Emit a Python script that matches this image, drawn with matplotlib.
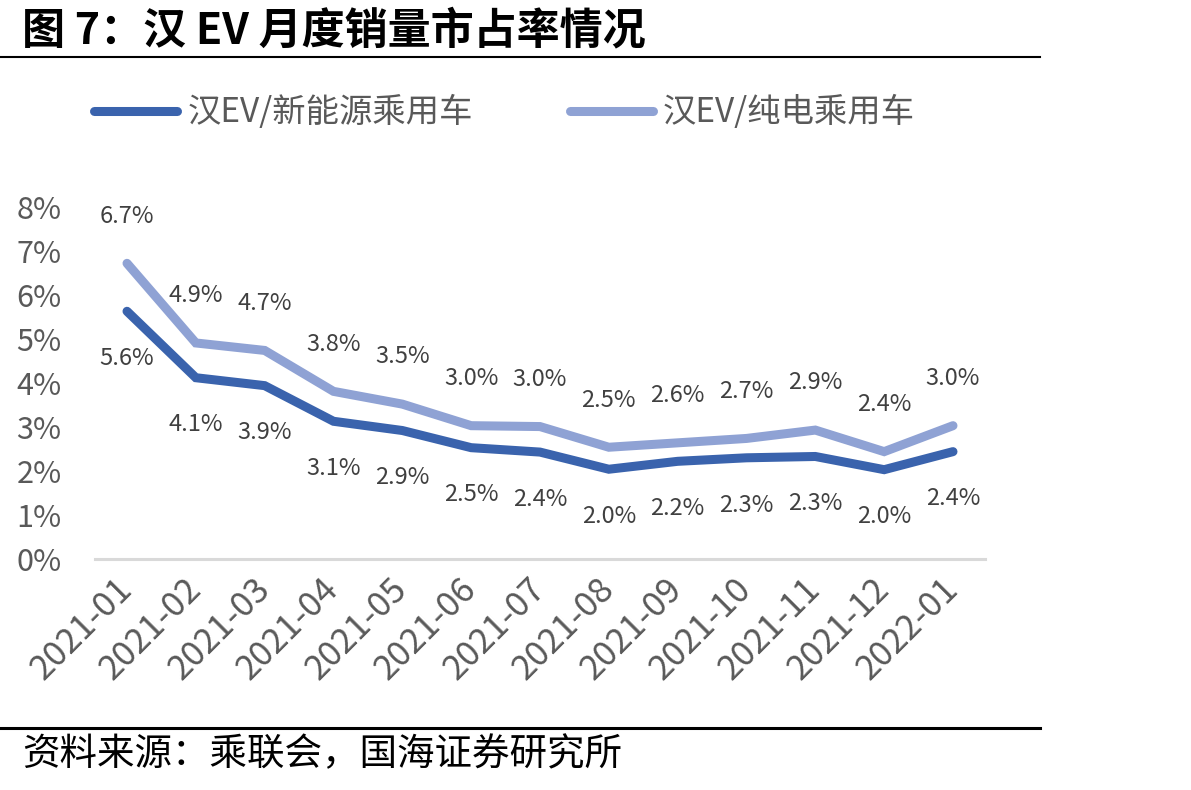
import matplotlib
matplotlib.use("Agg")
import matplotlib.pyplot as plt
from matplotlib.lines import Line2D
from matplotlib.ticker import FuncFormatter

plt.rcParams["font.family"] = ["Noto Sans CJK SC", "DejaVu Sans"]

months = ["2021-01", "2021-02", "2021-03", "2021-04", "2021-05", "2021-06", "2021-07",
          "2021-08", "2021-09", "2021-10", "2021-11", "2021-12", "2022-01"]
share_nev = [0.0563, 0.0412, 0.0394, 0.0313, 0.0292, 0.0253, 0.0243,
             0.0204, 0.0222, 0.0230, 0.0233, 0.0203, 0.0244]
share_bev = [0.0672, 0.0491, 0.0474, 0.0381, 0.0352, 0.0303, 0.0301,
             0.0254, 0.0264, 0.0274, 0.0293, 0.0244, 0.0303]
series_names = ["汉EV/新能源乘用车", "汉EV/纯电乘用车"]
title = "图 7：汉 EV 月度销量市占率情况"
source = "资料来源：乘联会，国海证券研究所"

dark = "#3A63AD"
light = "#8FA2D4"
label_color = "#404040"
tick_color = "#595959"

W, H = 1191, 790
fig = plt.figure(figsize=(W / 100, H / 100), dpi=100)
ax = fig.add_axes([95 / W, 1 - 559 / H, (985 - 95) / W, (559 - 207) / H])

x = list(range(len(months)))
ax.plot(x, share_nev, color=dark, lw=6.5, solid_capstyle="round", solid_joinstyle="miter",
        label=series_names[0], zorder=3)
ax.plot(x, share_bev, color=light, lw=6.5, solid_capstyle="round", solid_joinstyle="miter",
        label=series_names[1], zorder=3)

for xi, v in zip(x, share_nev):
    ax.annotate(f"{v * 100:.1f}%", (xi, v), xytext=(0, -34), textcoords="offset points",
                ha="center", va="center", fontsize=17, color=label_color)
for xi, v in zip(x, share_bev):
    ax.annotate(f"{v * 100:.1f}%", (xi, v), xytext=(0, 34), textcoords="offset points",
                ha="center", va="center", fontsize=17, color=label_color)

ax.set_xlim(-0.465, 12.465)
ax.set_ylim(0, 0.08)
ax.set_yticks([i / 100 for i in range(9)])
ax.yaxis.set_major_formatter(FuncFormatter(lambda v, p: f"{v * 100:.0f}%"))
ax.set_xticks(x)
ax.set_xticklabels(months, rotation=45, ha="right", va="center", rotation_mode="anchor")
ax.tick_params(axis="y", length=0, pad=24, labelsize=22, labelcolor=tick_color)
ax.tick_params(axis="x", length=0, pad=18, labelsize=25, labelcolor=tick_color)
for side in ["top", "right", "left"]:
    ax.spines[side].set_visible(False)
ax.spines["bottom"].set_color("#D9D9D9")
ax.spines["bottom"].set_linewidth(2.2)

fig.legend(loc="center left", bbox_to_anchor=(94 / W, 1 - 113 / H), ncol=2, frameon=False,
           fontsize=24, handlelength=2.5, handletextpad=0.3, columnspacing=2.9,
           borderpad=0, borderaxespad=0, labelcolor=tick_color)

fig.text(22 / W, 1 - 30 / H, title, fontsize=31, fontweight="bold", ha="left", va="center",
         color="black")
fig.add_artist(Line2D([0, 1040 / W], [1 - 57 / H, 1 - 57 / H], color="black", lw=1.5))
fig.add_artist(Line2D([0, 1040 / W], [1 - 728 / H, 1 - 728 / H], color="black", lw=2.2))
fig.text(22 / W, 1 - 755 / H, source, fontsize=27, ha="left", va="center", color="black")

fig.savefig("out.png", dpi=100)
